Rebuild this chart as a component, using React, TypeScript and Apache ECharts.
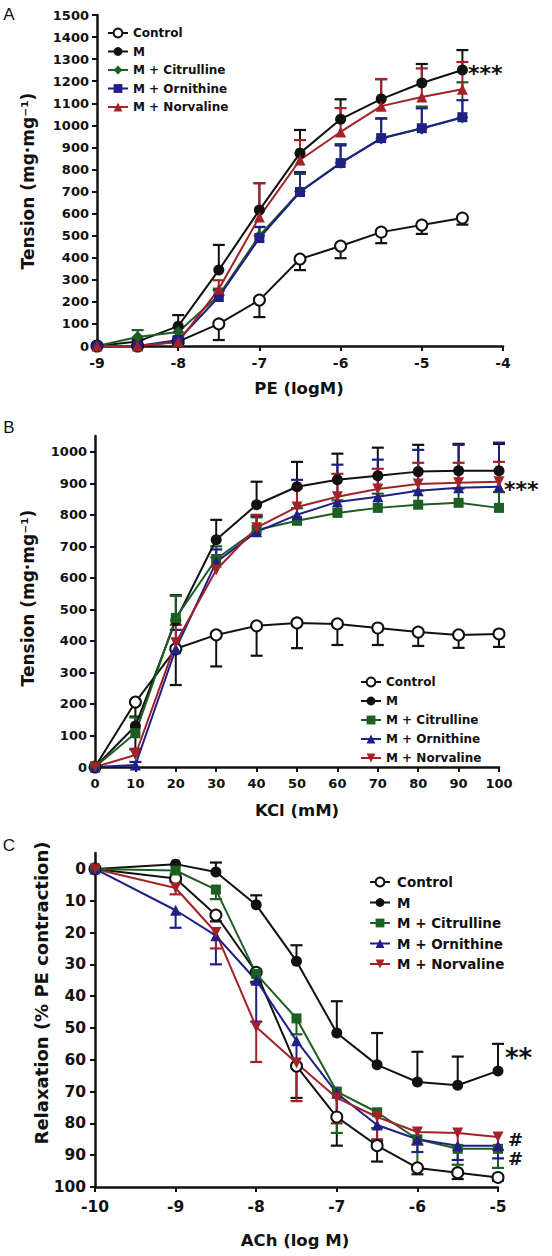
import React, { useEffect, useRef } from "react";
import * as echarts from "echarts";

// ---------- Panel A: PE ----------
const peX = [-9, -8.5, -8, -7.5, -7, -6.5, -6, -5.5, -5, -4.5];
const peControl = [0, 0, 20, 100, 208, 394, 453, 516, 548, 580];
const peControlErr = [0, 0, 10, 73, 77, 50, 55, 50, 40, 30];
const peM = [0, 20, 90, 344, 616, 874, 1028, 1119, 1192, 1251];
const peMErr = [0, 10, 50, 114, 122, 105, 90, 90, 86, 90];
const peCit = [0, 41, 63, 230, 500, 700, 830, 940, 985, 1035];
const peCitErr = [0, 31, 20, 30, 40, 80, 85, 90, 100, 160];
const peOrn = [0, 0, 27, 222, 489, 698, 829, 942, 987, 1037];
const peOrnErr = [0, 0, 15, 30, 50, 90, 80, 90, 90, 77];
const peNor = [0, 0, 18, 258, 585, 843, 970, 1087, 1128, 1164];
const peNorErr = [0, 0, 15, 40, 153, 90, 108, 123, 130, 123];
const peYTicks = [0, 100, 200, 300, 400, 500, 600, 700, 800, 900, 1000, 1100, 1200, 1300, 1400, 1500];

// ---------- Panel B: KCl ----------
const kclX = [0, 10, 20, 30, 40, 50, 60, 70, 80, 90, 100];
const kclControl = [0, 206, 375, 419, 448, 457, 454, 441, 428, 419, 422];
const kclControlErr = [0, 150, 115, 100, 95, 80, 67, 54, 44, 41, 41];
const kclM = [0, 130, 465, 721, 832, 889, 911, 924, 937, 940, 940];
const kclMErr = [0, 30, 80, 63, 73, 79, 83, 89, 85, 85, 85];
const kclCit = [0, 107, 473, 660, 752, 781, 806, 822, 832, 838, 822];
const kclCitErr = [0, 50, 70, 40, 40, 40, 40, 45, 45, 45, 50];
const kclOrn = [0, 6, 375, 650, 746, 800, 841, 857, 876, 886, 889];
const kclOrnErr = [0, 10, 60, 40, 50, 111, 118, 118, 130, 136, 140];
const kclNor = [0, 38, 394, 625, 759, 825, 857, 882, 898, 902, 905];
const kclNorErr = [0, 20, 57, 40, 41, 60, 73, 64, 67, 63, 63];
const kclYTicks = [0, 100, 200, 300, 400, 500, 600, 700, 800, 900, 1000];

// ---------- Panel C: ACh ----------
const achX = [-10, -9, -8.5, -8, -7.5, -7, -6.5, -6, -5.5, -5];
const achControl = [0, 3, 14.5, 32.5, 62, 78, 87, 94, 95.5, 97];
const achControlErr = [0, 1, 2, 3, 10, 9, 5, 2, 2, 1];
const achM = [0, -1.5, 1, 11.3, 29, 51.6, 61.6, 67, 68, 63.5];
const achMErr = [0, 0, 3, 3, 5, 10, 10, 9.5, 9, 8.5];
const achCit = [0, 0.5, 6.5, 33, 47, 70, 76.5, 85, 88, 88];
const achCitErr = [0, 1, 3, 3, 5, 13, 5, 9, 5, 6];
const achOrn = [0, 13, 21, 35, 54, 70.5, 80.5, 85, 87, 87];
const achOrnErr = [0, 5.5, 9, 13, 8, 8, 5, 4, 4.5, 4];
const achNor = [0, 6, 20, 49.7, 61, 72, 78, 82.7, 83, 84.3];
const achNorErr = [0, 2, 5, 11, 12, 8, 7, 4, 4, 4];
const achYTicks = [0, 10, 20, 30, 40, 50, 60, 70, 80, 90, 100];

const groupNames = ["Control", "M", "M + Citrulline", "M + Ornithine", "M + Norvaline"];

const BLACK = "#111111";
const GREEN = "#1d5e22";
const BLUE = "#1f1f86";
const RED = "#a3222a";
const FONT = "'DejaVu Sans', sans-serif";
const TRI_DOWN = "path://M0,0L10,0L5,8.66Z";

type Def = {
  group: string;
  values: number[];
  errs: number[];
  dir: number;
  color: string;
  fill: string;
  symbol: string;
  size: number;
};

function panelSeries(prefix: string, gi: number, xs: number[], defs: Def[]) {
  const out: any[] = [];
  defs.forEach((d) => {
    const name = prefix + ":" + d.group;
    const errData = xs
      .map((x, i) => [x, d.values[i], d.values[i] + d.dir * d.errs[i]])
      .filter((p) => p[1] !== p[2]);
    out.push({
      type: "custom",
      name: name + " err",
      xAxisIndex: gi,
      yAxisIndex: gi,
      z: 2,
      silent: true,
      data: errData,
      renderItem: (params: any, api: any) => {
        const x = api.value(0);
        const p0 = api.coord([x, api.value(1)]);
        const p1 = api.coord([x, api.value(2)]);
        const hw = 6;
        return {
          type: "group",
          children: [
            { type: "line", shape: { x1: p0[0], y1: p0[1], x2: p1[0], y2: p1[1] }, style: { stroke: d.color, lineWidth: 2 } },
            { type: "line", shape: { x1: p1[0] - hw, y1: p1[1], x2: p1[0] + hw, y2: p1[1] }, style: { stroke: d.color, lineWidth: 2.2 } },
          ],
        };
      },
    });
    out.push({
      type: "line",
      name,
      xAxisIndex: gi,
      yAxisIndex: gi,
      z: 3,
      data: xs.map((x, i) => [x, d.values[i]]),
      symbol: d.symbol,
      symbolSize: d.size,
      showAllSymbol: true,
      lineStyle: { color: d.color, width: 2 },
      itemStyle: { color: d.fill, borderColor: d.color, borderWidth: d.fill === d.color ? 0 : 2 },
      emphasis: { disabled: true },
    });
  });
  return out;
}

const axisCommon = {
  axisLine: { show: true, onZero: false, lineStyle: { color: BLACK, width: 2.5 } },
  axisTick: { show: true, inside: false, length: 5, lineStyle: { color: BLACK, width: 2 } },
  splitLine: { show: false },
};

function legendFor(prefix: string, left: number, top: number, fontSize: number, gap: number, pad: number) {
  return {
    data: groupNames.map((g) => prefix + ":" + g),
    formatter: (n: string) => n.split(":")[1],
    orient: "vertical",
    left,
    top,
    itemWidth: 20,
    itemHeight: 11,
    itemGap: gap,
    selectedMode: false,
    textStyle: { fontFamily: FONT, fontWeight: "bold", fontSize, color: BLACK, padding: [0, 0, 0, pad] },
  };
}

function txt(text: string, x: number, y: number, fontSize: number, opts: any = {}) {
  return {
    type: "text",
    x,
    y,
    rotation: opts.rotation || 0,
    style: {
      text,
      fontSize,
      fontWeight: opts.weight || "bold",
      fontFamily: opts.family || FONT,
      fill: BLACK,
      align: opts.align || "center",
      verticalAlign: "middle",
      textAlign: opts.align || "center",
      textVerticalAlign: "middle",
    },
  };
}

export default function App() {
  const ref = useRef<HTMLDivElement>(null);
  useEffect(() => {
    if (!ref.current) return;
    const chart = echarts.init(ref.current, undefined, { renderer: "svg" });

    const defsA: Def[] = [
      { group: "Control", values: peControl, errs: peControlErr, dir: -1, color: BLACK, fill: "#ffffff", symbol: "circle", size: 11 },
      { group: "M", values: peM, errs: peMErr, dir: 1, color: BLACK, fill: BLACK, symbol: "circle", size: 11 },
      { group: "M + Citrulline", values: peCit, errs: peCitErr, dir: 1, color: GREEN, fill: GREEN, symbol: "diamond", size: 12 },
      { group: "M + Ornithine", values: peOrn, errs: peOrnErr, dir: 1, color: BLUE, fill: BLUE, symbol: "rect", size: 10 },
      { group: "M + Norvaline", values: peNor, errs: peNorErr, dir: 1, color: RED, fill: RED, symbol: "triangle", size: 11 },
    ];
    const defsB: Def[] = [
      { group: "Control", values: kclControl, errs: kclControlErr, dir: -1, color: BLACK, fill: "#ffffff", symbol: "circle", size: 11 },
      { group: "M", values: kclM, errs: kclMErr, dir: 1, color: BLACK, fill: BLACK, symbol: "circle", size: 11 },
      { group: "M + Citrulline", values: kclCit, errs: kclCitErr, dir: 1, color: GREEN, fill: GREEN, symbol: "rect", size: 10 },
      { group: "M + Ornithine", values: kclOrn, errs: kclOrnErr, dir: 1, color: BLUE, fill: BLUE, symbol: "triangle", size: 11 },
      { group: "M + Norvaline", values: kclNor, errs: kclNorErr, dir: 1, color: RED, fill: RED, symbol: TRI_DOWN, size: 11 },
    ];
    const defsC: Def[] = [
      { group: "Control", values: achControl, errs: achControlErr, dir: 1, color: BLACK, fill: "#ffffff", symbol: "circle", size: 11 },
      { group: "M", values: achM, errs: achMErr, dir: -1, color: BLACK, fill: BLACK, symbol: "circle", size: 11 },
      { group: "M + Citrulline", values: achCit, errs: achCitErr, dir: 1, color: GREEN, fill: GREEN, symbol: "rect", size: 10 },
      { group: "M + Ornithine", values: achOrn, errs: achOrnErr, dir: 1, color: BLUE, fill: BLUE, symbol: "triangle", size: 11 },
      { group: "M + Norvaline", values: achNor, errs: achNorErr, dir: 1, color: RED, fill: RED, symbol: TRI_DOWN, size: 11 },
    ];

    const labelStyle = (size: number, margin: number) => ({
      fontFamily: FONT,
      fontWeight: "bold",
      fontSize: size,
      color: BLACK,
      margin,
      formatter: (v: number) => String(v),
    });

    const option: any = {
      animation: false,
      backgroundColor: "#ffffff",
      grid: [
        { left: 97, top: 15, width: 406, height: 331 },
        { left: 95, top: 436, width: 404, height: 331 },
        { left: 95, top: 853, width: 403, height: 334 },
      ],
      xAxis: [
        { type: "value", gridIndex: 0, min: -9, max: -4, interval: 1, ...axisCommon, axisLabel: labelStyle(14, 10) },
        { type: "value", gridIndex: 1, min: 0, max: 100, interval: 10, ...axisCommon, axisLabel: labelStyle(13, 10) },
        { type: "value", gridIndex: 2, min: -10, max: -5, interval: 1, ...axisCommon, axisLabel: labelStyle(15.5, 12) },
      ],
      yAxis: [
        {
          type: "value", gridIndex: 0, min: 0, max: 1500, interval: 100, ...axisCommon,
          axisTick: { ...axisCommon.axisTick, customValues: peYTicks },
          axisLabel: { ...labelStyle(13, 8), customValues: peYTicks },
        },
        {
          type: "value", gridIndex: 1, min: 0, max: 1050, ...axisCommon,
          axisTick: { ...axisCommon.axisTick, customValues: kclYTicks },
          axisLabel: { ...labelStyle(13, 8), customValues: kclYTicks },
        },
        {
          type: "value", gridIndex: 2, min: -5, max: 100, inverse: true, ...axisCommon,
          axisTick: { ...axisCommon.axisTick, customValues: achYTicks },
          axisLabel: { ...labelStyle(15.5, 9), customValues: achYTicks },
        },
      ],
      legend: [
        legendFor("A", 102, 22, 12, 6.5, 0),
        legendFor("B", 355, 671, 12, 7, 0),
        legendFor("C", 364, 870, 13.5, 6.5, 2),
      ],
      graphic: [
        txt("A", 9, 14, 17, { weight: "normal", family: "'Liberation Sans', Arial, sans-serif" }),
        txt("B", 9, 427, 17, { weight: "normal", family: "'Liberation Sans', Arial, sans-serif" }),
        txt("C", 9, 845, 17, { weight: "normal", family: "'Liberation Sans', Arial, sans-serif" }),
        txt("Tension (mg·mg⁻¹)", 28, 181, 17, { rotation: Math.PI / 2 }),
        txt("Tension (mg·mg⁻¹)", 28, 598, 17, { rotation: Math.PI / 2 }),
        txt("Relaxation (% PE contraction)", 41, 993, 18, { rotation: Math.PI / 2 }),
        txt("PE (logM)", 299, 388, 16.5),
        txt("KCl (mM)", 297, 810, 16.5),
        txt("ACh (log M)", 295, 1240, 16.5),
        txt("***", 468, 73, 22, { align: "left" }),
        txt("***", 504, 489, 22, { align: "left" }),
        txt("**", 505, 1058, 26, { align: "left" }),
        txt("#", 508, 1139, 18, { align: "left" }),
        txt("#", 508, 1158, 18, { align: "left" }),
      ],
      series: [
        ...panelSeries("A", 0, peX, defsA),
        ...panelSeries("B", 1, kclX, defsB),
        ...panelSeries("C", 2, achX, defsC),
      ],
    };
    chart.setOption(option);
    return () => chart.dispose();
  }, []);

  return (
    <div
      ref={ref}
      style={{ position: "absolute", left: 0, top: 0, width: 552, height: 1256, background: "#fff" }}
    />
  );
}
